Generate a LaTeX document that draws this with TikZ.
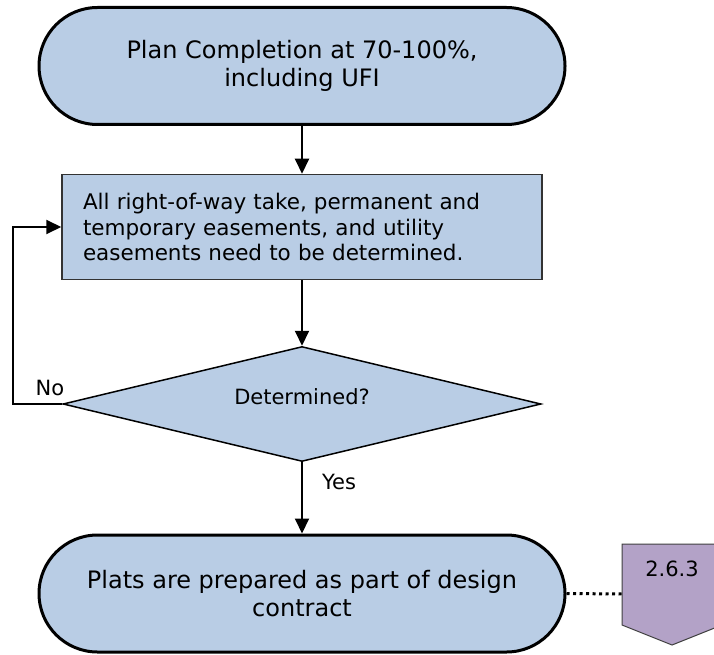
\documentclass[tikz,border=0pt]{standalone}
\usepackage{fontspec}
\setmainfont{DejaVu Sans}
\usetikzlibrary{shapes.misc,shapes.geometric,arrows.meta}
\definecolor{stepfill}{HTML}{B9CDE5}
\definecolor{linkfill}{HTML}{B3A2C7}
\begin{document}
\begin{tikzpicture}[x=1pt,y=-1pt,
  terminal/.style={rounded rectangle, draw=black, line width=3pt, fill=stepfill,
    minimum width=526pt, minimum height=117pt, inner sep=0pt, align=center,
    font=\fontsize{24}{28}\selectfont},
  process/.style={rectangle, draw=black!80, line width=1.5pt, fill=stepfill,
    minimum width=480pt, minimum height=105pt, inner xsep=21pt, text width=438pt,
    align=left, font=\fontsize{21.5}{25.7}\selectfont},
  decision/.style={diamond, aspect=4.13, draw=black, line width=1.5pt, fill=stepfill,
    minimum width=478pt, minimum height=115pt, inner sep=0pt,
    text height=16pt, text depth=16pt, font=\fontsize{21}{25}\selectfont},
  flow/.style={line width=2pt, -{Triangle[length=15pt,width=14pt]}},
  lbl/.style={font=\fontsize{21}{25}\selectfont, inner sep=0pt},
  offpage/.style={draw=black!75, line width=1pt, fill=linkfill},
  dotlink/.style={line width=3pt, dash pattern=on 3pt off 3.5pt}
]
\useasboundingbox (0,0) rectangle (714,655);
\fill[white] (0,0) rectangle (714,655);
\clip (0,0) rectangle (714,655);

% process steps
\node[terminal] (start) at (302,66) {Plan Completion at 70-100\%,\\including UFI};
\node[process] (take) at (302,227) {All right-of-way take, permanent and\\temporary easements, and utility\\easements need to be determined.};
\node[decision] (check) at (302,404) {Determined?};
\node[terminal] (plats) at (302,593.5) {Plats are prepared as part of design\\contract};

% off-page reference
\draw[offpage] (622,544) -- (722,544) -- (722,625) -- (672,645) -- (622,625) -- cycle;
\node[lbl] (ref) at (672,569) {2.6.3};
\coordinate (refin) at (622,594);

% connectors
\draw[flow] (start.south) -- (take.north);
\draw[flow] (take.south) -- (check.north);
\draw[flow] (check.south) -- (plats.north);
\coordinate (loopturn) at (13,404);
\draw[flow] (check.west) -- (loopturn) |- (take.west);
\draw[dotlink] (plats.east) -- (refin);

% branch labels
\node[lbl] (nolabel) at (50,388) {No};
\node[lbl] (yeslabel) at (339,482) {Yes};
\end{tikzpicture}
\end{document}
